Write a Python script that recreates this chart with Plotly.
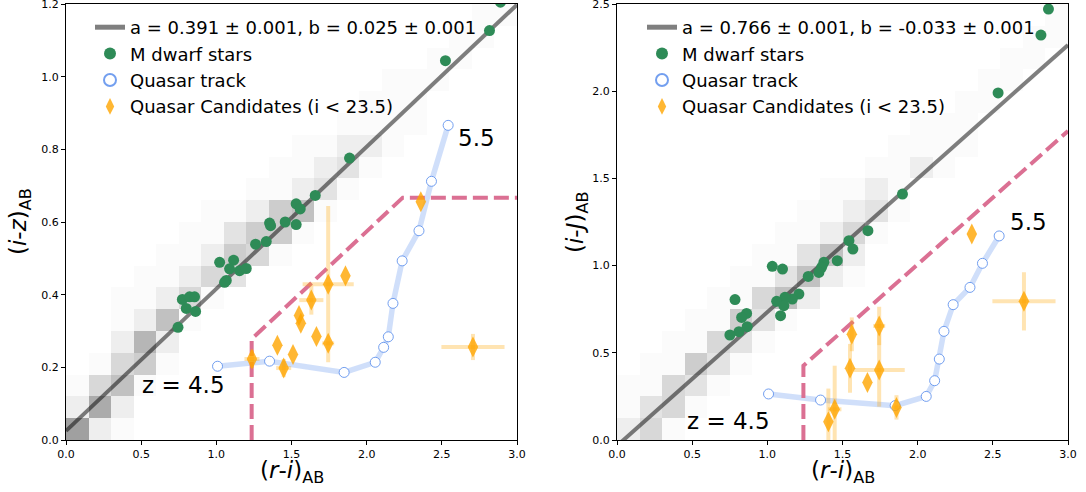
import plotly.graph_objects as go

W, H = 1086, 492
FONT = "DejaVu Sans"

# ---------------- shared ----------------
fit_x = [0.0, 3.0]
track_ri = [1.008, 1.354, 1.850, 2.057, 2.113, 2.144, 2.175, 2.236, 2.348, 2.431, 2.542]

# ---------------- left panel: (r-i) vs (i-z) ----------------
fitL_a, fitL_b = 0.391, 0.025
fitL_label = "a = 0.391 ± 0.001, b = 0.025 ± 0.001"

dwarfL_ri = [2.890, 2.817, 2.524, 1.886, 1.658, 1.531, 1.558, 1.458, 1.354, 1.361, 1.531, 1.332, 1.261,
             1.115, 1.022, 1.088, 1.155, 1.199, 1.066, 1.055, 0.774, 0.822, 0.855, 0.800, 0.862, 0.745]
dwarfL_iz = [1.205, 1.127, 1.044, 0.776, 0.673, 0.650, 0.636, 0.600, 0.597, 0.590, 0.593, 0.546, 0.539,
             0.495, 0.489, 0.471, 0.466, 0.472, 0.439, 0.434, 0.387, 0.394, 0.394, 0.362, 0.354, 0.310]

track_iz = [0.203, 0.217, 0.186, 0.214, 0.255, 0.284, 0.376, 0.493, 0.576, 0.712, 0.866]

candL_ri = [2.360, 1.859, 1.744, 1.632, 1.550, 1.562, 1.666, 1.744, 1.406, 1.510, 1.237, 1.448, 2.707]
candL_iz = [0.656, 0.452, 0.429, 0.385, 0.343, 0.321, 0.285, 0.266, 0.261, 0.235, 0.223, 0.198, 0.256]
candL_xerr = [0.0, 0.0, 0.17, 0.08, 0.0, 0.0, 0.0, 0.04, 0.0, 0.0, 0.05, 0.05, 0.21]
candL_yerr = [0.0, 0.0, 0.215, 0.04, 0.0, 0.0, 0.0, 0.0, 0.0, 0.0, 0.025, 0.025, 0.036]

cutL_x = [1.235, 1.235, 2.240, 3.0]
cutL_y = [0.0, 0.278, 0.667, 0.667]

# 2D histogram of field sources (20 x 20 bins), bottom row first, digit = darkness 0..9
heatL_rows = [
    "92100000000000000000",
    "28200000000000000000",
    "14610000000000000000",
    "01451000000000000000",
    "00272000000000000000",
    "00126100000000000000",
    "00112410000000000000",
    "00011243000000000000",
    "00001125410000000000",
    "00000113551000000000",
    "00000011256100000000",
    "00000000112310000000",
    "00000000011231000000",
    "00000000001122100000",
    "00000000000011110000",
    "00000000000001110000",
    "00000000000000111000",
    "00000000000000001100",
    "00000000000000000110",
    "00000000000000000011",
]

# ---------------- right panel: (r-i) vs (i-J) ----------------
fitR_a, fitR_b = 0.766, -0.033
fitR_label = "a = 0.766 ± 0.001, b = -0.033 ± 0.001"

dwarfR_ri = [2.870, 2.820, 2.535, 1.899, 1.669, 1.543, 1.569, 1.465, 1.376, 1.361, 1.343, 1.272, 1.033,
             1.101, 1.210, 1.166, 1.117, 1.062, 1.110, 1.088, 0.785, 0.862, 0.829, 0.866, 0.811, 0.751]
dwarfR_iJ = [2.471, 2.322, 1.990, 1.410, 1.200, 1.143, 1.095, 1.028, 1.019, 0.990, 0.961, 0.938, 0.996,
             0.980, 0.837, 0.808, 0.818, 0.795, 0.770, 0.713, 0.805, 0.726, 0.703, 0.650, 0.621, 0.602]

track_iJ = [0.264, 0.229, 0.197, 0.250, 0.340, 0.464, 0.623, 0.776, 0.875, 1.013, 1.170]

candR_ri = [2.360, 2.707, 1.744, 1.744, 1.562, 1.550, 1.666, 1.448, 1.406, 1.859]
candR_iJ = [1.181, 0.795, 0.654, 0.401, 0.606, 0.411, 0.329, 0.176, 0.105, 0.187]
candR_xerr = [0.0, 0.21, 0.04, 0.17, 0.0, 0.0, 0.0, 0.045, 0.0, 0.02]
candR_yerr = [0.0, 0.167, 0.11, 0.21, 0.097, 0.14, 0.0, 0.25, 0.19, 0.07]

cutR_x = [1.240, 1.240, 3.0]
cutR_y = [0.0, 0.426, 1.772]

heatR_rows = [
    "24100000000000000000",
    "13410000000000000000",
    "11431000000000000000",
    "01153100000000000000",
    "00114310000000000000",
    "00011531000000000000",
    "00001146200000000000",
    "00000113621000000000",
    "00000011362000000000",
    "00000001124100000000",
    "00000000112310000000",
    "00000000011210000000",
    "00000000000112100000",
    "00000000000011110000",
    "00000000000001110000",
    "00000000000000011000",
    "00000000000000001100",
    "00000000000000000110",
    "00000000000000000011",
    "00000000000000000001",
]

yticksL = [0.0, 0.2, 0.4, 0.6, 0.8, 1.0, 1.2]
yticksR = [0.0, 0.5, 1.0, 1.5, 2.0, 2.5]
xticks = [0.0, 0.5, 1.0, 1.5, 2.0, 2.5, 3.0]

# ---------------- styles ----------------
GREEN = "#2e8b57"
TRACK_LINE = "rgba(100,149,237,0.30)"
TRACK_EDGE = "rgba(100,149,237,0.9)"
CAND = "rgba(255,165,0,0.8)"
CAND_ERR = "rgba(255,165,0,0.3)"
PINK = "rgb(219,112,147)"
FIT = "rgba(0,0,0,0.5)"
HEAT_SCALE = [[0, "rgb(255,255,255)"], [1 / 9, "rgb(251,251,251)"], [2 / 9, "rgb(238,238,238)"],
              [1, "rgb(160,160,160)"]]


def grid(rows):
    return [[(int(ch) if ch != "0" else None) for ch in r] for r in rows]


fig = go.Figure()


def add_panel(xa, ya, legend, heat_rows, ybin, fa, fb, flabel, d_x, d_y, t_y, c_x, c_y, c_xe, c_ye, cut_x, cut_y):
    fig.add_trace(go.Heatmap(
        z=grid(heat_rows), x0=0.075, dx=0.15, y0=ybin / 2, dy=ybin,
        zmin=0, zmax=9, colorscale=HEAT_SCALE,
        showscale=False, hoverinfo="skip", xaxis=xa, yaxis=ya))
    fig.add_trace(go.Scatter(
        x=fit_x, y=[fa * v + fb for v in fit_x], mode="lines",
        line=dict(color=FIT, width=4), name=flabel, legend=legend, xaxis=xa, yaxis=ya))
    fig.add_trace(go.Scatter(
        x=d_x, y=d_y, mode="markers", marker=dict(color=GREEN, size=11),
        name="M dwarf stars", legend=legend, xaxis=xa, yaxis=ya))
    fig.add_trace(go.Scatter(
        x=track_ri, y=t_y, mode="lines", line=dict(color=TRACK_LINE, width=5.5),
        showlegend=False, hoverinfo="skip", xaxis=xa, yaxis=ya))
    fig.add_trace(go.Scatter(
        x=cut_x, y=cut_y, mode="lines",
        line=dict(color=PINK, width=4, dash="15px,6px"),
        showlegend=False, xaxis=xa, yaxis=ya))
    fig.add_trace(go.Scatter(
        x=track_ri, y=t_y, mode="markers",
        marker=dict(symbol="circle", size=10, color="white", line=dict(color=TRACK_EDGE, width=1)),
        name="Quasar track", legend=legend, xaxis=xa, yaxis=ya))
    fig.add_trace(go.Scatter(
        x=c_x, y=c_y, mode="markers",
        marker=dict(symbol="diamond-tall", size=15, color=CAND),
        error_x=dict(type="data", array=c_xe, color=CAND_ERR, thickness=4, width=0),
        error_y=dict(type="data", array=c_ye, color=CAND_ERR, thickness=4, width=0),
        name="Quasar Candidates (i < 23.5)", legend=legend, xaxis=xa, yaxis=ya))


add_panel("x", "y", "legend", heatL_rows, 0.06, fitL_a, fitL_b, fitL_label,
          dwarfL_ri, dwarfL_iz, track_iz, candL_ri, candL_iz, candL_xerr, candL_yerr, cutL_x, cutL_y)
add_panel("x2", "y2", "legend2", heatR_rows, 0.125, fitR_a, fitR_b, fitR_label,
          dwarfR_ri, dwarfR_iJ, track_iJ, candR_ri, candR_iJ, candR_xerr, candR_yerr, cutR_x, cutR_y)

ydom = [52 / H, 488 / H]
axis_common = dict(showgrid=False, zeroline=False, showline=True, mirror=True, linecolor="black",
                   linewidth=1, ticks="outside", ticklen=4, tickwidth=1, tickcolor="black",
                   ticklabeloverflow="allow", automargin=False,
                   tickfont=dict(family=FONT, size=11, color="black"))


def fmt(v):
    return f"{v:.1f}"


fig.update_layout(
    width=W, height=H, margin=dict(l=0, r=0, t=0, b=0, autoexpand=False),
    paper_bgcolor="white", plot_bgcolor="white",
    font=dict(family=FONT, color="black"),
    xaxis=dict(domain=[66 / W, 517 / W], range=[0, 3], tickvals=xticks, ticktext=[fmt(v) for v in xticks],
               anchor="y", **axis_common),
    yaxis=dict(domain=ydom, range=[0, 1.2], tickvals=yticksL, ticktext=[fmt(v) for v in yticksL],
               anchor="x", **axis_common),
    xaxis2=dict(domain=[617 / W, 1068 / W], range=[0, 3], tickvals=xticks, ticktext=[fmt(v) for v in xticks],
                anchor="y2", **axis_common),
    yaxis2=dict(domain=ydom, range=[0, 2.5], tickvals=yticksR, ticktext=[fmt(v) for v in yticksR],
                anchor="x2", **axis_common),
    legend=dict(x=90 / W, y=483 / H, xanchor="left", yanchor="top", bgcolor="rgba(0,0,0,0)",
                font=dict(family=FONT, size=18, color="black"), itemsizing="constant"),
    legend2=dict(x=642 / W, y=483 / H, xanchor="left", yanchor="top", bgcolor="rgba(0,0,0,0)",
                 font=dict(family=FONT, size=18, color="black"), itemsizing="constant"),
    showlegend=True,
)

ann = []
lab = dict(size=23, family=FONT, color="black")
ann.append(dict(text="z = 4.5", x=0.78, y=0.152, xref="x", yref="y", showarrow=False, font=lab))
ann.append(dict(text="5.5", x=2.73, y=0.83, xref="x", yref="y", showarrow=False, font=lab))
ann.append(dict(text="z = 4.5", x=0.74, y=0.111, xref="x2", yref="y2", showarrow=False, font=lab))
ann.append(dict(text="5.5", x=2.74, y=1.25, xref="x2", yref="y2", showarrow=False, font=lab))
xt = "(<i>r</i>-<i>i</i>)<sub>AB</sub>"
ann.append(dict(text=xt, x=291.5 / W, y=(H - 472) / H, xref="paper", yref="paper", showarrow=False,
                xanchor="center", yanchor="middle", font=lab))
ann.append(dict(text=xt, x=842.5 / W, y=(H - 472) / H, xref="paper", yref="paper", showarrow=False,
                xanchor="center", yanchor="middle", font=lab))
ann.append(dict(text="(<i>i</i>-<i>z</i>)<sub>AB</sub>", x=20 / W, y=(H - 222) / H, xref="paper",
                yref="paper", showarrow=False, textangle=-90, xanchor="center", yanchor="middle", font=lab))
ann.append(dict(text="(<i>i</i>-<i>J</i>)<sub>AB</sub>", x=577 / W, y=(H - 222) / H, xref="paper",
                yref="paper", showarrow=False, textangle=-90, xanchor="center", yanchor="middle", font=lab))
fig.update_layout(annotations=ann)

fig.write_html("out.html", config={"displayModeBar": False},
               post_script="document.body.style.margin='0';document.body.style.padding='0';")
